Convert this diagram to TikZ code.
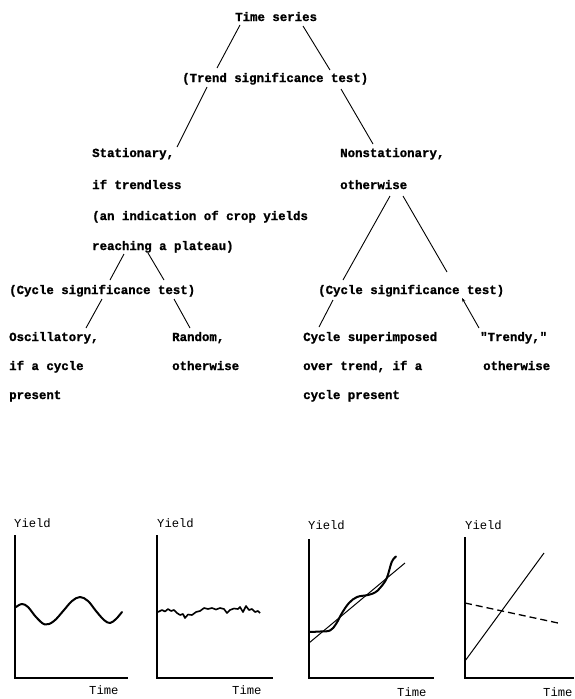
\documentclass[tikz,border=0pt]{standalone}
\usepackage{fontspec}
\setmonofont{Liberation Mono}[BoldFeatures={FakeBold=1.2}]
\usetikzlibrary{arrows.meta}
\begin{document}
\begin{tikzpicture}[x=1pt,y=-1pt,
  lbl/.style={anchor=base west,inner sep=0pt,font=\ttfamily\bfseries\fontsize{12.4}{14}\selectfont},
  axlbl/.style={anchor=base west,inner sep=0pt,font=\ttfamily\fontsize{12.2}{14}\selectfont},
  edge/.style={line width=0.9pt},
  axisline/.style={line width=1.4pt},
  wave/.style={line width=2pt,line join=round,line cap=round},
  thin/.style={line width=1pt}]
\useasboundingbox (0,0) rectangle (574,699);
\clip (0,0) rectangle (574,699);
% ---- tree text ----
\node[lbl] (ts) at (235,21) {Time series};
\node[lbl] (trend) at (182,82) {(Trend significance test)};
\node[lbl] (stat) at (92,157) {Stationary,};
\node[lbl] (stat2) at (92,189) {if trendless};
\node[lbl] (stat3) at (92,220) {(an indication of crop yields};
\node[lbl] (stat4) at (92,250) {reaching a plateau)};
\node[lbl] (non) at (340,157) {Nonstationary,};
\node[lbl] (non2) at (340,189) {otherwise};
\node[lbl] (lcyc) at (9,294) {(Cycle significance test)};
\node[lbl] (rcyc) at (318,294) {(Cycle significance test)};
\node[lbl] (osc) at (9,341) {Oscillatory,};
\node[lbl] (osc2) at (9,370) {if a cycle};
\node[lbl] (osc3) at (9,399) {present};
\node[lbl] (rnd) at (172,341) {Random,};
\node[lbl] (rnd2) at (172,370) {otherwise};
\node[lbl] (cs) at (303,341) {Cycle superimposed};
\node[lbl] (cs2) at (303,370) {over trend, if a};
\node[lbl] (cs3) at (303,399) {cycle present};
\node[lbl] (td) at (480,341) {"Trendy,"};
\node[lbl] (td2) at (483,370) {otherwise};
% ---- tree connectors ----
\draw[edge] ([shift={(5,4)}]ts.base west) -- ([shift={(35,-14)}]trend.base west);
\draw[edge] ([shift={(68,5)}]ts.base west) -- ([shift={(148,-12)}]trend.base west);
\draw[edge] ([shift={(25,5)}]trend.base west) -- ([shift={(85,-10)}]stat.base west);
\draw[edge] ([shift={(159,7)}]trend.base west) -- ([shift={(33,-13)}]non.base west);
\draw[edge] ([shift={(32,4)}]stat4.base west) -- ([shift={(101,-14)}]lcyc.base west);
\draw[edge] ([shift={(56,3)}]stat4.base west) -- ([shift={(155,-14)}]lcyc.base west);
\draw[edge] ([shift={(93,5)}]lcyc.base west) -- ([shift={(77,-13)}]osc.base west);
\draw[edge] ([shift={(165,5)}]lcyc.base west) -- ([shift={(18,-13)}]rnd.base west);
\draw[edge] ([shift={(50,7)}]non2.base west) -- ([shift={(25,-14)}]rcyc.base west);
\draw[edge] ([shift={(63,7)}]non2.base west) -- ([shift={(129,-22)}]rcyc.base west);
\draw[edge] ([shift={(15,6)}]rcyc.base west) -- ([shift={(16,-14)}]cs.base west);
\draw[edge,-{Stealth[length=4pt,width=3pt]}] ([shift={(-1,-13)}]td.base west) -- ([shift={(144,4)}]rcyc.base west);
% ---- graph 1: oscillatory ----
\node[axlbl] (y1) at (14,527) {Yield};
\node[axlbl] (t1) at (89,694) {Time};
\draw[axisline] (15,535) -- (15,678) -- (128,678);
\draw[wave] plot[smooth,tension=0.6] coordinates {(16,607) (22,604) (28,607) (36,617) (45,624.5) (54,621) (64,610) (72,601) (80,597) (88,601) (96,611) (104,620) (110,623) (116,619) (122,612)};
% ---- graph 2: random ----
\node[axlbl] (y2) at (157,527) {Yield};
\node[axlbl] (t2) at (232,694) {Time};
\draw[axisline] (157,535) -- (157,678) -- (273,678);
\draw[line width=1.6pt,line join=round] (158,612) -- (162,610) -- (165,611.5) -- (168,609) -- (171,611) -- (174,610) -- (177,613) -- (180,615) -- (183,614) -- (185,618) -- (188,614.5) -- (192,615) -- (196,612) -- (200,611) -- (204,608) -- (208,609) -- (212,608) -- (216,609.5) -- (220,608) -- (224,609) -- (227,613) -- (230,610) -- (234,608.5) -- (238,609) -- (240,607) -- (243,612) -- (246,606) -- (249,610) -- (252,609) -- (255,612) -- (258,611) -- (260,613);
% ---- graph 3: cycle over trend ----
\node[axlbl] (y3) at (308,529) {Yield};
\node[axlbl] (t3) at (397,696) {Time};
\draw[axisline] (309,539) -- (309,678) -- (434,678);
\draw[thin] (309,643) -- (405,563);
\draw[wave] plot[smooth,tension=0.6] coordinates {(309,632) (320,631.5) (330,630.5) (336,624) (342,613) (349,603) (357,597) (368,595) (375,592.5) (380,588) (386.7,578.3) (391.7,562) (396,556.5)};
% ---- graph 4: trendy ----
\node[axlbl] (y4) at (465,529) {Yield};
\node[axlbl] (t4) at (543,696) {Time};
\draw[axisline] (465,537) -- (465,678) -- (574,678);
\draw[thin] (465,661) -- (544,553);
\draw[line width=1.3pt,dash pattern=on 7pt off 4pt] (465,603) -- (558,623);
\end{tikzpicture}
\end{document}
